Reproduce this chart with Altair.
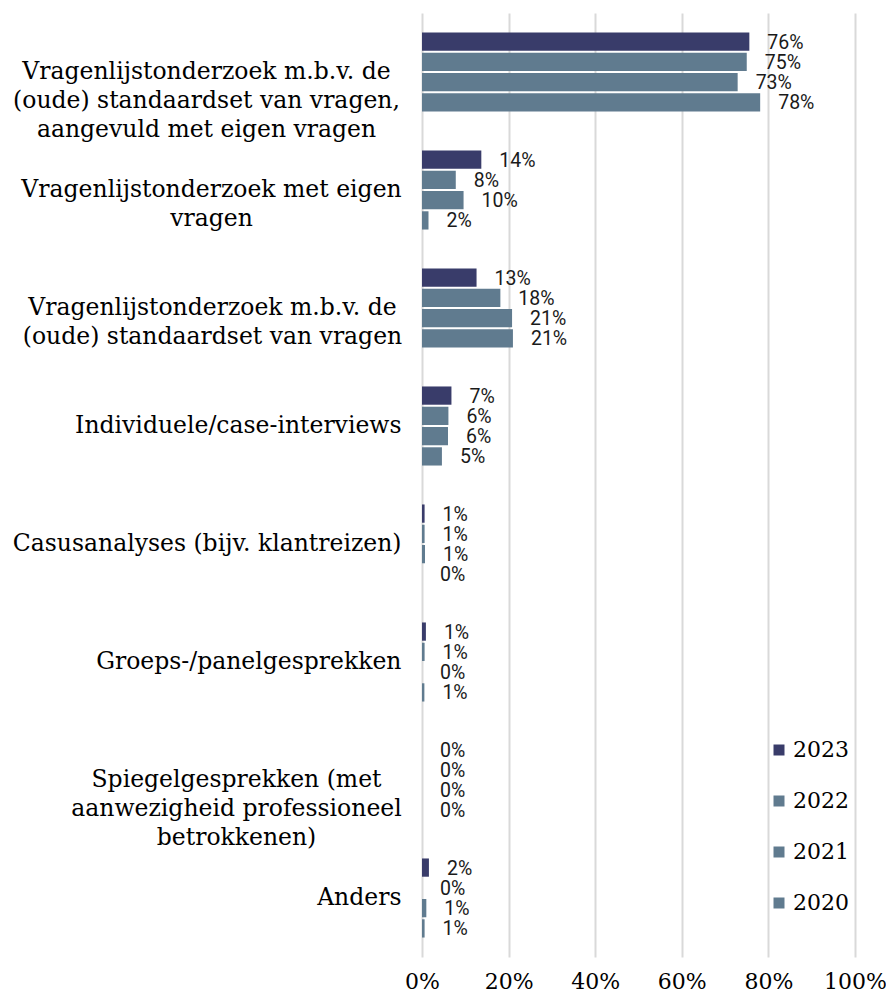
import altair as alt
import pandas as pd

categories = [
    "Vragenlijstonderzoek m.b.v. de|(oude) standaardset van vragen,|aangevuld met eigen vragen",
    "Vragenlijstonderzoek met eigen|vragen",
    "Vragenlijstonderzoek m.b.v. de|(oude) standaardset van vragen",
    "Individuele/case-interviews",
    "Casusanalyses (bijv. klantreizen)",
    "Groeps-/panelgesprekken",
    "Spiegelgesprekken (met|aanwezigheid professioneel|betrokkenen)",
    "Anders",
]
years = ["2023", "2022", "2021", "2020"]
values_2023 = [0.756, 0.137, 0.126, 0.068, 0.006, 0.009, 0.0, 0.016]
values_2022 = [0.750, 0.078, 0.181, 0.061, 0.006, 0.006, 0.0, 0.0]
values_2021 = [0.729, 0.096, 0.208, 0.060, 0.007, 0.0, 0.0, 0.010]
values_2020 = [0.781, 0.015, 0.210, 0.046, 0.0, 0.0055, 0.0, 0.006]
x_ticks = [0, 0.2, 0.4, 0.6, 0.8, 1.0]

series = {"2023": values_2023, "2022": values_2022, "2021": values_2021, "2020": values_2020}
rows = []
for yr in years:
    for cat, v in zip(categories, series[yr]):
        rows.append({"cat": cat, "year": yr, "value": v})
df = pd.DataFrame(rows)

# layout of multi-line category labels (widest line width in px, estimated)
block_w = {categories[0]: 390, categories[1]: 380, categories[2]: 378, categories[6]: 330}
GAP = 21
pad_conditions = [
    {"test": "datum.value === '%s'" % c, "value": GAP + w / 2} for c, w in block_w.items()
]

SERIF = "DejaVu Serif"

y_enc = alt.Y(
    "cat:N",
    sort=categories,
    scale=alt.Scale(paddingInner=0.33, paddingOuter=0.165),
    axis=alt.Axis(
        title=None,
        labelExpr="split(datum.value, '|')",
        labelFont=SERIF,
        labelFontSize=23.5,
        labelColor="#000000",
        labelLineHeight=29,
        labelLimit=0,
        ticks=False,
        domain=False,
        labelAlign={"condition": {"test": "indexof(datum.value, '|') >= 0", "value": "center"}, "value": "right"},
        labelPadding={"condition": pad_conditions, "value": GAP},
    ),
)
yoff_enc = alt.YOffset("year:N", sort=years, scale=alt.Scale(paddingInner=0.1, paddingOuter=0))
x_enc = alt.X(
    "value:Q",
    scale=alt.Scale(domain=[0, 1]),
    axis=alt.Axis(
        title=None,
        values=x_ticks,
        format=".0%",
        grid=True,
        gridColor="#d9d9d9",
        gridWidth=2,
        ticks=False,
        domain=False,
        labelFont=SERIF,
        labelFontSize=22,
        labelColor="#000000",
        labelPadding=14,
        labelOverlap=False,
        labelFlush=False,
    ),
)

bars = alt.Chart(df).mark_bar().encode(
    x=x_enc,
    y=y_enc,
    yOffset=yoff_enc,
    color=alt.Color(
        "year:N",
        sort=years,
        scale=alt.Scale(domain=years, range=["#393c6a", "#607b8f", "#607b8f", "#607b8f"]),
        legend=alt.Legend(
            title=None,
            orient="none",
            legendX=346,
            legendY=726,
            symbolType="square",
            symbolSize=121,
            symbolStrokeWidth=0,
            labelFont=SERIF,
            labelFontSize=22,
            labelColor="#000000",
            labelOffset=3,
            rowPadding=29,
        ),
    ),
)

labels = alt.Chart(df).mark_text(
    align="left", baseline="middle", dx=18, dy=1, font="Roboto", fontSize=19.5, color="#1a1a1a"
).encode(
    x=alt.X("value:Q"),
    y=alt.Y("cat:N", sort=categories),
    yOffset=alt.YOffset("year:N", sort=years),
    text=alt.Text("value:Q", format=".0%"),
)

chart = (
    alt.layer(bars, labels)
    .properties(
        width=433,
        height=944,
        padding={"left": 414, "top": 5, "right": 31, "bottom": 35},
        autosize="none",
    )
    .configure_view(stroke=None)
)

chart.save("out.html", embed_options={"renderer": "svg", "actions": False})
